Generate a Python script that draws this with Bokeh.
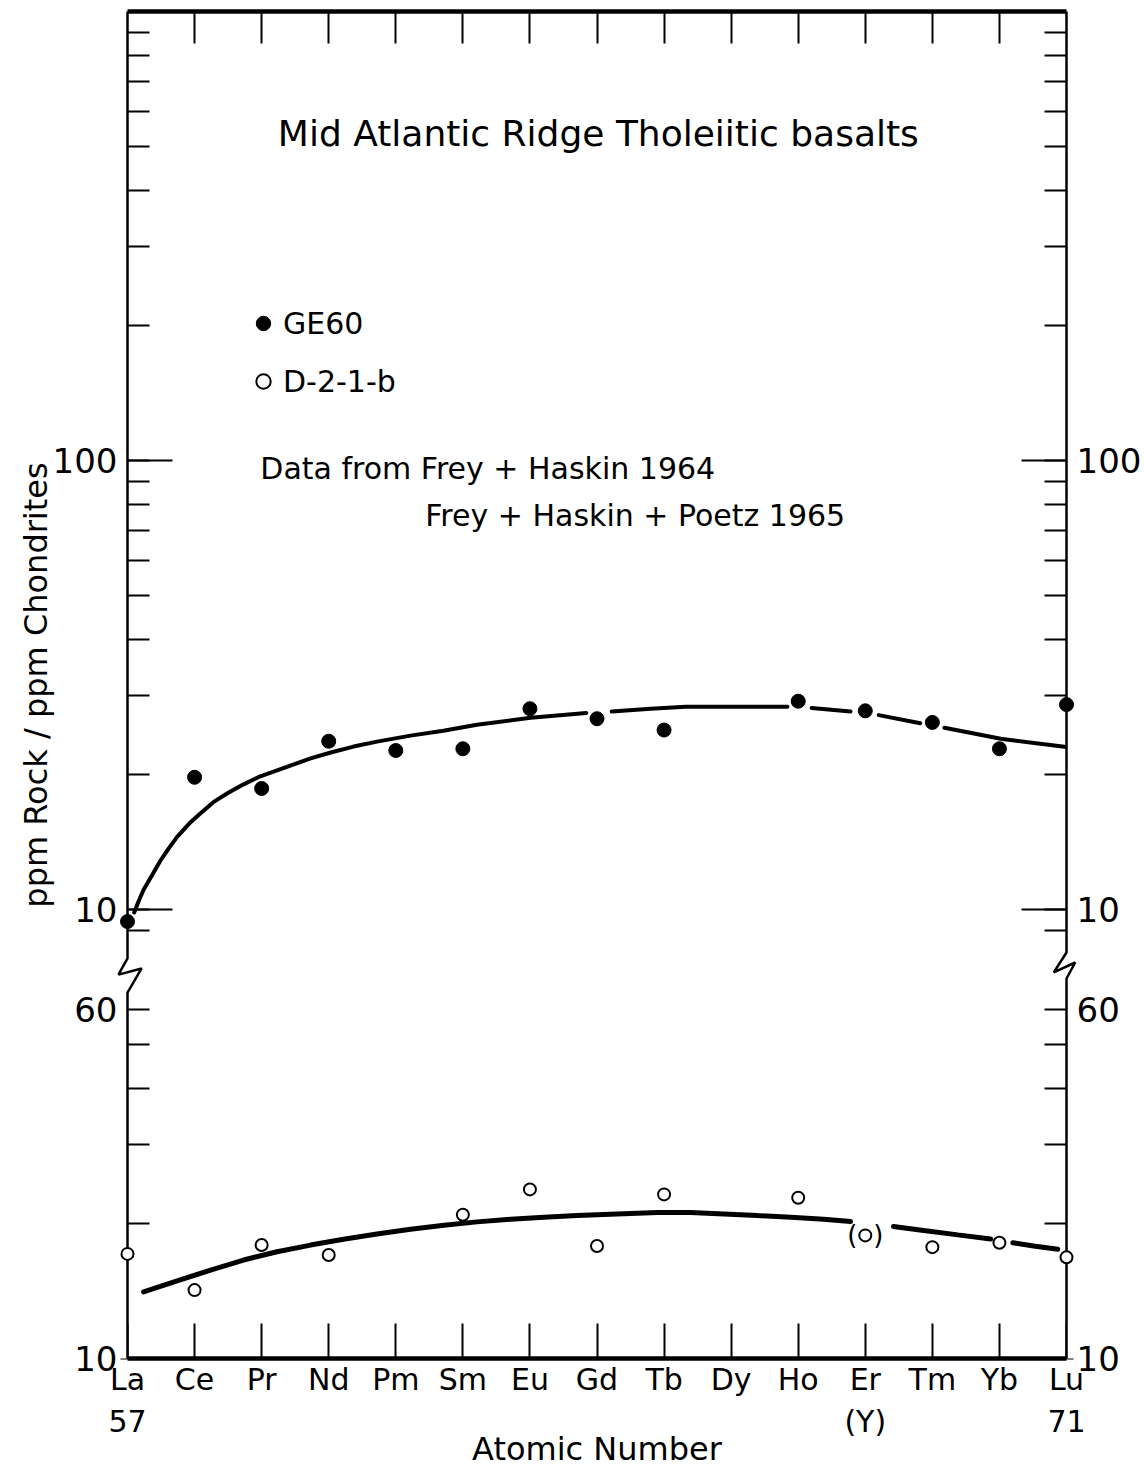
from bokeh.plotting import figure
from bokeh.models import (Range1d, LogScale, LogAxis, LinearAxis, FixedTicker,
                          CustomJSTickFormatter, Label, Legend, LegendItem)
from bokeh.embed import file_html
from bokeh.resources import INLINE
from bokeh.core.properties import value

nan = float("nan")
FONT = "DejaVu Sans"

# ---------------- data ----------------
elements = ["La", "Ce", "Pr", "Nd", "Pm", "Sm", "Eu", "Gd", "Tb", "Dy",
            "Ho", "Er", "Tm", "Yb", "Lu"]
atomic_numbers = list(range(57, 72))
second_line = {57: "57", 68: "(Y)", 71: "71"}

# GE60 (filled dots, upper panel)
ge60_z = [57, 58, 59, 60, 61, 62, 63, 64, 65, 67, 68, 69, 70, 71]
ge60_val = [9.4, 19.7, 18.6, 23.7, 22.6, 22.8, 28.0, 26.6, 25.1, 29.1, 27.7, 26.1, 22.8, 28.6]

# D-2-1-b (open circles, lower panel)
d21b_z = [57, 58, 59, 60, 62, 63, 64, 65, 67, 68, 69, 70, 71]
d21b_val = [17.1, 14.2, 17.9, 17.0, 20.9, 23.8, 17.8, 23.2, 22.8, 18.8, 17.7, 18.1, 16.8]
uncertain_z = [68, 68]          # Er value of D-2-1-b shown in parentheses
uncertain_val = [18.8, 18.8]

# hand-drawn trend curves (NaN = pen lifted)
upper_curve_z = [57.10, 57.17, 57.24, 57.37, 57.49, 57.62, 57.74, 57.94, 58.09, 58.28,
                 58.49, 58.73, 58.98, 59.23, 59.48, 59.73, 60.03, 60.37, 60.72, 61.22,
                 61.71, 62.21, 63.01, 63.84, nan, 64.22, 64.80, 65.32, 66.07, 66.84, nan,
                 67.20, 67.78, nan, 68.20, 68.82, nan, 69.18, 70.02, 71.0]
upper_curve_val = [9.85, 10.47, 11.07, 11.95, 12.84, 13.72, 14.51, 15.65, 16.39, 17.34,
                   18.15, 19.00, 19.80, 20.40, 21.04, 21.70, 22.37, 23.06, 23.65, 24.39,
                   25.02, 25.79, 26.73, 27.4, nan, 27.6, 28.0, 28.3, 28.3, 28.3, nan,
                   28.1, 27.6, nan, 27.1, 26.0, nan, 25.4, 24.0, 23.0]

lower_curve_z = [57.24, 57.74, 58.24, 58.73, 59.23, 59.73, 60.22, 60.72, 61.22, 61.72,
                 62.21, 62.71, 63.21, 63.70, 64.20, 64.90, 65.39, 65.89, 66.39, 66.89,
                 67.38, 67.78, nan, 68.42, 68.87, 69.38, 69.87, nan, 70.20, 70.51, 70.87]
lower_curve_val = [14.07, 14.89, 15.74, 16.57, 17.29, 17.89, 18.43, 18.94, 19.41, 19.81,
                   20.15, 20.43, 20.64, 20.81, 20.96, 21.13, 21.13, 20.99, 20.81, 20.64,
                   20.43, 20.18, nan, 19.67, 19.27, 18.85, 18.46, nan, 18.11, 17.81, 17.51]

# axis ticks
upper_major_ticks = [10, 100]
upper_minor_ticks = [9, 20, 30, 40, 50, 60, 70, 80, 90, 200, 300, 400, 500, 600, 700, 800, 900]
lower_major_ticks = [10, 60]
lower_minor_ticks = [20, 30, 40, 50]

# ---------------- geometry ----------------
Z0, Z1 = atomic_numbers[0], atomic_numbers[-1]
BOX_W = 939                       # px between La and Lu
PX = BOX_W / (Z1 - Z0)            # px per atomic number
PAD = 10                          # px of frame outside the drawn box
d = PAD / PX

upper_range = Range1d(1, 1000)
lower_range = Range1d(10, 10000)
F = lower_range.start / upper_range.start   # lower value -> position on upper axis

p = figure(frame_width=BOX_W + 2 * PAD, frame_height=1347,
           x_range=Range1d(Z0 - d, Z1 + d), y_range=upper_range, y_axis_type="log",
           output_backend="svg", toolbar_location=None, title=None,
           min_border_left=127 - PAD, min_border_right=78 - PAD,
           min_border_top=11, min_border_bottom=121,
           background_fill_color="white", border_fill_color="white")
p.extra_y_ranges = {"low": lower_range}
p.extra_y_scales = {"low": LogScale()}
p.grid.visible = False
p.outline_line_color = None

major = [v / F for v in lower_major_ticks] + upper_major_ticks
minor = [v / F for v in lower_minor_ticks] + upper_minor_ticks
fmt_code = "return String(Math.round(tick < split ? tick * f : tick));"


def style_y(ax):
    ax.ticker = FixedTicker(ticks=major, minor_ticks=minor)
    ax.formatter = CustomJSTickFormatter(args=dict(f=F, split=7.5), code=fmt_code)
    ax.axis_line_color = None
    ax.major_tick_in = PAD + 22
    ax.major_tick_out = -3
    ax.minor_tick_in = PAD + 22
    ax.minor_tick_out = -3
    ax.major_tick_line_width = 2
    ax.minor_tick_line_width = 2
    ax.major_label_text_font = FONT
    ax.major_label_text_font_size = "34px"
    ax.major_label_text_color = "black"
    ax.major_label_standoff = 3


yl = p.yaxis[0]
style_y(yl)
yl.axis_label = "ppm Rock / ppm Chondrites"
yl.axis_label_text_font = FONT
yl.axis_label_text_font_size = "32px"
yl.axis_label_text_font_style = "normal"
yl.axis_label_text_color = "black"
yl.axis_label_standoff = -5

yr = LogAxis()
style_y(yr)
p.add_layout(yr, "right")

xb = p.xaxis[0]
xb.ticker = FixedTicker(ticks=atomic_numbers)
xb.major_label_overrides = {z: (el + ("\n" + second_line[z] if z in second_line else ""))
                            for z, el in zip(atomic_numbers, elements)}
xb.axis_line_color = None
xb.major_tick_in = 35
xb.major_tick_out = 0
xb.major_tick_line_width = 2
xb.major_label_text_font = FONT
xb.major_label_text_font_size = "30px"
xb.major_label_text_color = "black"
xb.major_label_standoff = 3
xb.axis_label = "Atomic Number"
xb.axis_label_text_font = FONT
xb.axis_label_text_font_size = "32px"
xb.axis_label_text_font_style = "normal"
xb.axis_label_text_color = "black"
xb.axis_label_standoff = -12

xt = LinearAxis(ticker=FixedTicker(ticks=atomic_numbers[1:-1]))
xt.major_label_overrides = {z: "" for z in atomic_numbers}
xt.axis_line_color = None
xt.major_tick_in = 32
xt.major_tick_out = 0
xt.major_tick_line_width = 2
xt.major_label_standoff = 0
p.add_layout(xt, "above")

# ---------------- box, break marks, long decade ticks ----------------
yb, yt = upper_range.start, upper_range.end
# blank the strip of frame outside the box (hides the tick stubs there)
p.quad(left=[Z0 - d, Z1], right=[Z0, Z1 + d], bottom=[yb, yb], top=[yt, yt],
       fill_color="white", line_color=None, level="overlay")
left_side_x = [Z0, Z0, Z0 - 0.135, Z0 + 0.21, Z0, Z0]
left_side_y = [yt, 7.78, 7.16, 7.39, 6.53, yb]
right_side_x = [Z1, Z1, Z1 - 0.19, Z1 + 0.13, Z1, Z1]
right_side_y = [yt, 8.02, 7.24, 7.62, 7.02, yb]
p.line(left_side_x, left_side_y, line_color="black", line_width=2.5, level="overlay")
p.line(right_side_x, right_side_y, line_color="black", line_width=2.5, level="overlay")
p.line([Z0, Z1], [yt, yt], line_color="black", line_width=4.5, level="overlay")
p.line([Z0, Z1], [yb, yb], line_color="black", line_width=4.5, level="overlay")

n = len(upper_major_ticks)
long_tick = 45 / PX
p.segment(x0=[Z0] * n, y0=upper_major_ticks, x1=[Z0 + long_tick] * n, y1=upper_major_ticks,
          line_color="black", line_width=2)
p.segment(x0=[Z1] * n, y0=upper_major_ticks, x1=[Z1 - long_tick] * n, y1=upper_major_ticks,
          line_color="black", line_width=2)

# ---------------- data marks ----------------
p.line(upper_curve_z, upper_curve_val, line_color="black", line_width=4, line_cap="round")
p.line(lower_curve_z, lower_curve_val, line_color="black", line_width=5, line_cap="round",
       y_range_name="low")

r_ge = p.scatter(ge60_z, ge60_val, marker="circle", size=14,
                 fill_color="black", line_color="black", level="overlay")
r_d = p.scatter(d21b_z, d21b_val, marker="circle", size=12, fill_color="white",
                line_color="black", line_width=2, y_range_name="low", level="overlay")
p.text(uncertain_z, uncertain_val, text=["(", ")"], x_offset=[-13, 13], y_range_name="low",
       text_align="center", text_baseline="middle", text_font=value(FONT),
       text_font_size="26px", text_color="black")

# ---------------- texts ----------------
p.add_layout(Label(x=64.02, y=535, text="Mid Atlantic Ridge Tholeiitic basalts",
                   text_align="center", text_baseline="middle", text_font=FONT,
                   text_font_size="36px", text_color="black"))
p.add_layout(Label(x=58.98, y=96.0, text="Data from Frey + Haskin 1964",
                   text_align="left", text_baseline="middle", text_font=FONT,
                   text_font_size="30px", text_color="black"))
p.add_layout(Label(x=61.44, y=75.4, text="Frey + Haskin + Poetz 1965",
                   text_align="left", text_baseline="middle", text_font=FONT,
                   text_font_size="30px", text_color="black"))

legend = Legend(items=[LegendItem(label="GE60", renderers=[r_ge]),
                       LegendItem(label="D-2-1-b", renderers=[r_d])],
                location=(118 + PAD, 959), border_line_color=None, background_fill_alpha=0,
                padding=0, margin=0, spacing=22, glyph_width=36, glyph_height=36,
                label_height=36, label_standoff=2, label_text_font=FONT,
                label_text_font_size="30px", label_text_color="black")
p.add_layout(legend)

open("out.html", "w").write(file_html(p, INLINE))
